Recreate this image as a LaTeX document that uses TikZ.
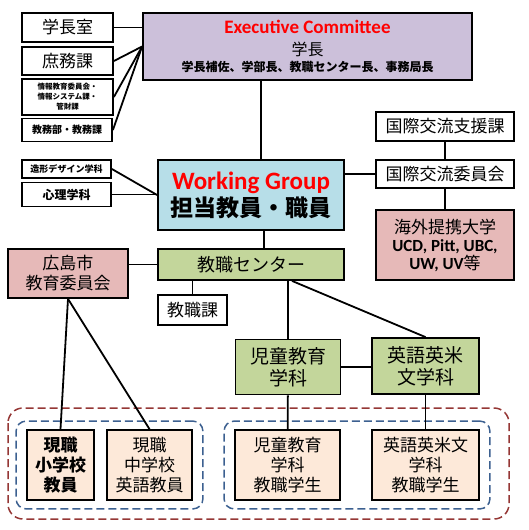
\documentclass[tikz,border=0pt]{standalone}
\usepackage{fontspec}
\setmainfont{Noto Sans CJK JP}
\newfontfamily\lat{Carlito}
\usetikzlibrary{positioning, fit}

\definecolor{execfill}{HTML}{CCC0DA}
\definecolor{wgfill}{HTML}{B7DEE8}
\definecolor{greenfill}{HTML}{C3D69B}
\definecolor{pinkfill}{HTML}{E6B9B8}
\definecolor{peachfill}{HTML}{FDE9D9}
\definecolor{grpblue}{HTML}{3C6090}
\definecolor{grpred}{HTML}{953735}

\tikzset{
  box/.style={draw, line width=1.8pt, inner sep=0pt, align=center,
    font=\fontsize{17}{20}\selectfont},
  link/.style={line width=1.8pt},
  grp/.style={draw=grpblue, line width=1.5pt, dash pattern=on 8pt off 4pt,
    rounded corners=10pt, inner xsep=10pt, inner ysep=8pt},
}

\begin{document}
\begin{tikzpicture}[x=1pt, y=-1pt]
  \useasboundingbox (0,0) rectangle (529,530);

  % top left offices
  \node[box, minimum width=91pt, minimum height=29pt] (shitsu) at (67.5,27.5) {学長室};
  \node[box, minimum width=91pt, minimum height=28pt] (shomu) at (67.5,61) {庶務課};
  \node[box, minimum width=91pt, minimum height=36pt, font=\bfseries\fontsize{7.5}{10}\selectfont] (joho) at (67.5,97)
    {情報教育委員会・\\情報システム課・\\管財課};
  \node[box, minimum width=90pt, minimum height=23pt, font=\bfseries\fontsize{10}{12}\selectfont] (kyomu) at (67,130) {教務部・教務課};

  % committee
  \node[box, fill=execfill, minimum width=329pt, minimum height=67pt, font=\fontsize{16}{19}\selectfont] (exec) at (307.5,46.5)
    {{\lat\bfseries\color{red}\fontsize{19}{20}\selectfont Executive Committee}\\[3pt]
     学長\\[-3pt]
     {\bfseries\fontsize{12}{14}\selectfont 学長補佐、学部長、教職センター長、事務局長}};

  % international
  \node[box, minimum width=138pt, minimum height=29pt] (shien) at (445,126.5) {国際交流支援課};
  \node[box, minimum width=138pt, minimum height=28pt] (kokusai) at (445,174) {国際交流委員会};
  \node[box, fill=pinkfill, minimum width=138pt, minimum height=70pt] (kaigai) at (445,245)
    {海外提携大学\\[-2pt]
     {\lat\bfseries\fontsize{17}{19}\selectfont UCD, Pitt, UBC,}\\[-2pt]
     {\lat\bfseries\fontsize{17}{19}\selectfont UW, UV}等};

  % working group
  \node[box, fill=wgfill, minimum width=186pt, minimum height=70pt] (wg) at (251,195)
    {{\lat\bfseries\color{red}\fontsize{25}{26}\selectfont Working Group}\\[2pt]
     {\bfseries\fontsize{23}{26}\selectfont 担当教員・職員}};
  \node[box, minimum width=89pt, minimum height=18pt, font=\bfseries\fontsize{9}{11}\selectfont] (zokei) at (66.5,169) {造形デザイン学科};
  \node[box, minimum width=89pt, minimum height=24pt, font=\bfseries\fontsize{12}{14}\selectfont] (shinri) at (66.5,194.5) {心理学科};

  % center
  \node[box, fill=pinkfill, minimum width=120pt, minimum height=49pt] (hiroshima) at (68,273.5) {広島市\\教育委員会};
  \node[box, fill=greenfill, minimum width=186pt, minimum height=31pt, font=\fontsize{18}{20}\selectfont] (center) at (251,264.5) {教職センター};
  \node[box, minimum width=69pt, minimum height=30pt] (kyoshokka) at (192.5,310) {教職課};

  % departments
  \node[box, fill=greenfill, minimum width=105pt, minimum height=55pt, font=\fontsize{19}{22}\selectfont] (jido) at (288,367) {児童教育\\学科};
  \node[box, fill=greenfill, minimum width=107pt, minimum height=56pt, font=\fontsize{19}{22}\selectfont] (eigo) at (425.5,366) {英語英米\\文学科};

  % teachers and students
  \node[box, fill=peachfill, minimum width=67pt, minimum height=70pt, font=\bfseries\fontsize{17}{20}\selectfont] (gensho1) at (60.5,465) {現職\\小学校\\教員};
  \node[box, fill=peachfill, minimum width=85pt, minimum height=70pt] (gensho2) at (149.5,465) {現職\\中学校\\英語教員};
  \node[box, fill=peachfill, minimum width=105pt, minimum height=70pt] (jidost) at (287.5,465) {児童教育\\学科\\教職学生};
  \node[box, fill=peachfill, minimum width=107pt, minimum height=70pt] (eigost) at (425.5,465) {英語英米文\\学科\\教職学生};

  \node[grp, fit=(gensho1)(gensho2)] (grpl) {};
  \node[grp, fit=(jidost)(eigost)] (grpr) {};
  \draw[draw=grpred, line width=1.5pt, dash pattern=on 8pt off 4pt, rounded corners=15pt]
    (8,408) rectangle (509,519);

  % links
  \draw[link] (shitsu.east) -- (shitsu.east -| exec.west);
  \draw[link] (shomu.east) -- (exec.west);
  \draw[link] (joho.east) -- (exec.west);
  \draw[link] (kyomu.east) -- (exec.west);
  \draw[link] ([xshift=10pt]wg.north) -- ([xshift=10pt]wg.north |- exec.south);
  \draw[link] (kokusai.west) -- (kokusai.west -| wg.east);
  \draw[link] (shien) -- (kokusai);
  \draw[link] (kokusai) -- (kaigai);
  \draw[link] (zokei.east) -- (wg.west);
  \draw[link] (shinri.east) -- (shinri.east -| wg.west);
  \draw[link] ([xshift=13pt]wg.south) -- ([xshift=13pt]center.north);
  \draw[link] (center.west) -- (center.west -| hiroshima.east);
  \draw[link] (kyoshokka.north) -- (kyoshokka.north |- center.south);
  \draw[link] (jido.north) -- (jido.north |- center.south);
  \draw[link] ([xshift=41pt]center.south) -- (eigo.north);
  \draw[link] (jido.east) -- (jido.east -| eigo.west);
  \draw[link] (hiroshima.south) -- (gensho1.north);
  \draw[link] (hiroshima.south) -- (gensho2.north);
  \draw[link] (jido) -- (jidost);
  \draw[link] (eigo) -- (eigost);
\end{tikzpicture}
\end{document}
